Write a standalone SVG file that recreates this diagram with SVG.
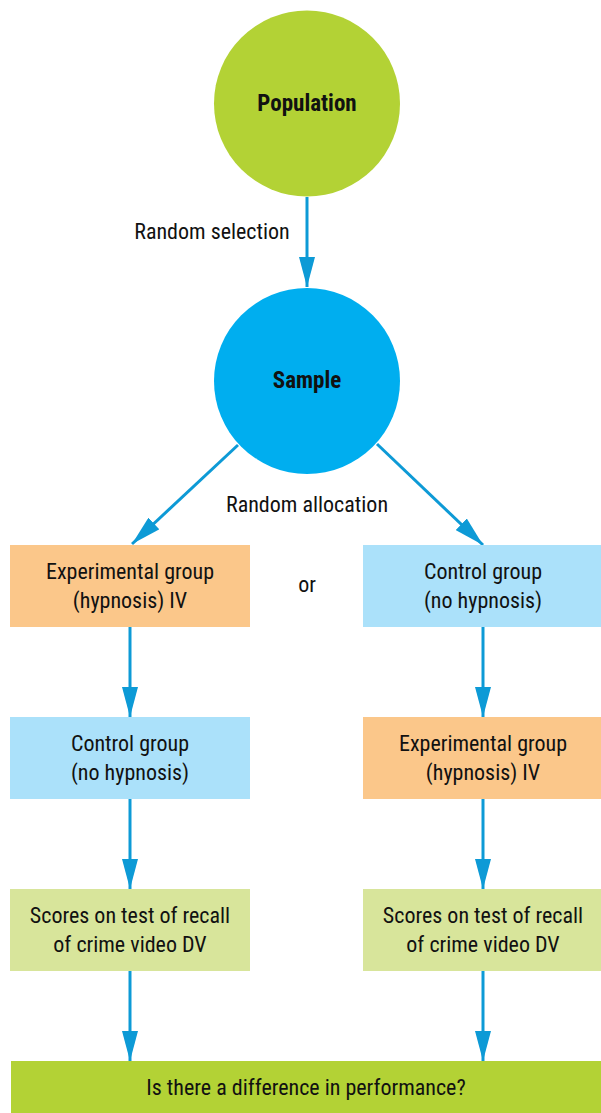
<svg xmlns="http://www.w3.org/2000/svg" width="601" height="1113" viewBox="0 0 601 1113">
<defs>
<style>
text{font-family:"Liberation Sans Narrow","Roboto Condensed","Liberation Sans",Arial,sans-serif;font-size:22px;fill:#111;text-anchor:middle}
.b{font-weight:bold;font-size:23px}
.c{stroke:#0d9ad6;stroke-width:3;fill:none}
.orange{fill:#fbc78a}
.lblue{fill:#abe1fa}
.pgreen{fill:#d8e59b}
</style>
<marker id="ah" viewBox="0 0 30 16" refX="30" refY="8" markerWidth="30" markerHeight="16" markerUnits="userSpaceOnUse" orient="auto">
<path d="M0,0 L30,8 L0,16 Z" fill="#0d9ad6"/>
</marker>
</defs>
<rect width="601" height="1113" fill="#fff"/>
<g id="connectors">
<line class="c" x1="307" y1="197" x2="307" y2="287" marker-end="url(#ah)"/>
<line class="c" x1="238" y1="445" x2="132" y2="544" marker-end="url(#ah)"/>
<line class="c" x1="377" y1="444" x2="483" y2="545" marker-end="url(#ah)"/>
<line class="c" x1="130" y1="627" x2="130" y2="717" marker-end="url(#ah)"/>
<line class="c" x1="483" y1="627" x2="483" y2="717" marker-end="url(#ah)"/>
<line class="c" x1="130" y1="799" x2="130" y2="889" marker-end="url(#ah)"/>
<line class="c" x1="483" y1="799" x2="483" y2="889" marker-end="url(#ah)"/>
<line class="c" x1="130" y1="971" x2="130" y2="1061" marker-end="url(#ah)"/>
<line class="c" x1="483" y1="971" x2="483" y2="1061" marker-end="url(#ah)"/>
<text x="212" y="239">Random selection</text>
<text x="307" y="512">Random allocation</text>
<text x="307" y="592">or</text>
</g>
<g id="population">
<circle cx="307" cy="103.5" r="93" fill="#b3d235"/>
<text class="b" x="307" y="111">Population</text>
</g>
<g id="sample">
<circle cx="307" cy="381" r="93" fill="#00aeef"/>
<text class="b" x="307" y="388">Sample</text>
</g>
<g id="exp-left">
<rect class="orange" x="10" y="545" width="240" height="82"/>
<text x="130" y="579">Experimental group</text>
<text x="130" y="608">(hypnosis) IV</text>
</g>
<g id="ctrl-right">
<rect class="lblue" x="363" y="545" width="238" height="82"/>
<text x="483" y="579">Control group</text>
<text x="483" y="608">(no hypnosis)</text>
</g>
<g id="ctrl-left">
<rect class="lblue" x="10" y="717" width="240" height="82"/>
<text x="130" y="751">Control group</text>
<text x="130" y="780">(no hypnosis)</text>
</g>
<g id="exp-right">
<rect class="orange" x="363" y="717" width="238" height="82"/>
<text x="483" y="751">Experimental group</text>
<text x="483" y="780">(hypnosis) IV</text>
</g>
<g id="scores-left">
<rect class="pgreen" x="10" y="889" width="240" height="82"/>
<text x="130" y="923">Scores on test of recall</text>
<text x="130" y="952">of crime video DV</text>
</g>
<g id="scores-right">
<rect class="pgreen" x="363" y="889" width="238" height="82"/>
<text x="483" y="923">Scores on test of recall</text>
<text x="483" y="952">of crime video DV</text>
</g>
<g id="difference">
<rect x="11" y="1061" width="590" height="52" fill="#b3d235"/>
<text x="306" y="1095">Is there a difference in performance?</text>
</g>
</svg>
